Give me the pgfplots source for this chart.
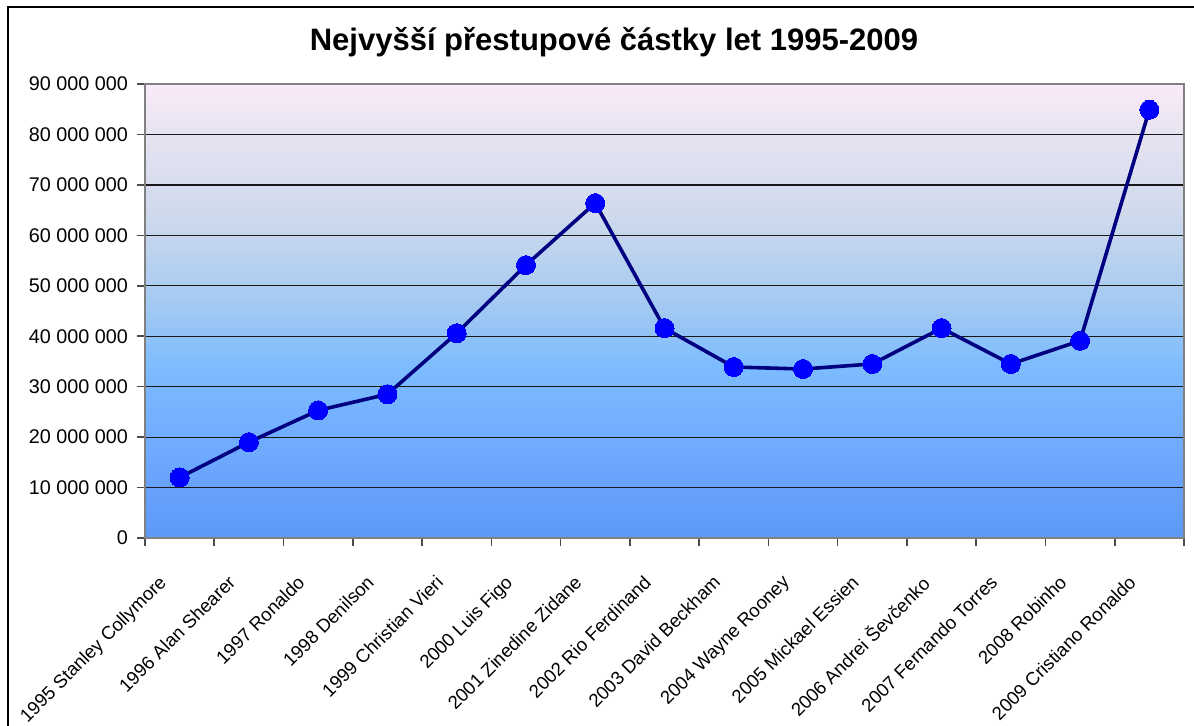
\documentclass[border=0pt]{standalone}
\usepackage{fontspec}
\setmainfont{Liberation Sans}
\usepackage{pgfplots}
\pgfplotsset{compat=1.18}
\definecolor{linec}{RGB}{0,0,128}
\definecolor{markc}{RGB}{0,0,255}
\definecolor{bgA}{RGB}{92,152,248}
\definecolor{bgB}{RGB}{108,168,255}
\definecolor{bgC}{RGB}{125,188,255}
\definecolor{bgD}{RGB}{160,200,242}
\definecolor{bgE}{RGB}{208,218,236}
\definecolor{bgF}{RGB}{232,228,242}
\definecolor{bgG}{RGB}{251,234,248}
\pgfdeclareverticalshading{chartbg}{100bp}{%
  color(0bp)=(bgA);
  color(25bp)=(bgA);
  color(33.5bp)=(bgB);
  color(44bp)=(bgC);
  color(50bp)=(bgD);
  color(61bp)=(bgE);
  color(70bp)=(bgF);
  color(75bp)=(bgG);
  color(100bp)=(bgG)}
\begin{document}
\begin{tikzpicture}
\useasboundingbox (0,0) rectangle (597pt,362.5pt);
\draw[line width=1.2pt] (4pt,-10pt) -- (4pt,359pt) -- (620pt,359pt);
\node[font=\bfseries\fontsize{15.5}{18}\selectfont] at (307pt,341.5pt) {Nejvyšší přestupové částky let 1995-2009};
\begin{axis}[
  at={(72.5pt,93.5pt)}, anchor=south west,
  scale only axis, width=519.5pt, height=227pt,
  xmin=0.5, xmax=15.5, ymin=0, ymax=90000000,
  axis background/.style={shading=chartbg},
  axis line style={draw=black!50, line width=0.8pt},
  xtick pos=bottom, ytick pos=left,
  xtick={1,...,15},
  xticklabels={1995 Stanley Collymore,1996 Alan Shearer,1997 Ronaldo,1998 Denilson,1999 Christian Vieri,2000 Luis Figo,2001 Zinedine Zidane,2002 Rio Ferdinand,2003 David Beckham,2004 Wayne Rooney,2005 Mickael Essien,2006 Andrei Ševčenko,2007 Fernando Torres,2008 Robinho,2009 Cristiano Ronaldo},
  minor xtick={0.5,1.5,...,15.5},
  major x tick style={draw=none},
  minor x tick style={draw=black!70, line width=0.8pt},
  tick align=outside,
  minor tick length=4pt,
  major tick length=4pt,
  ytick={0,10000000,...,90000000},
  yticklabels={0,10 000 000,20 000 000,30 000 000,40 000 000,50 000 000,60 000 000,70 000 000,80 000 000,90 000 000},
  y tick style={draw=black!70, line width=0.8pt},
  ymajorgrids,
  grid style={black!90, line width=0.6pt},
  yticklabel style={font=\fontsize{9.9}{12}\selectfont, xshift=-1pt},
  xticklabel style={font=\fontsize{9.3}{11}\selectfont, rotate=45, anchor=north east, xshift=-16.5pt, yshift=-1pt, inner sep=1pt},
  scaled y ticks=false,
  clip=false,
]
\addplot[linec, line width=1.8pt, mark=*, mark size=4.75pt, mark options={fill=markc, draw=markc, line width=0pt}]
coordinates {
(1,12000000) (2,19000000) (3,25300000) (4,28500000) (5,40600000)
(6,54100000) (7,66400000) (8,41600000) (9,33900000) (10,33500000)
(11,34500000) (12,41600000) (13,34500000) (14,39100000) (15,84900000)
};
\end{axis}
\end{tikzpicture}
\end{document}
